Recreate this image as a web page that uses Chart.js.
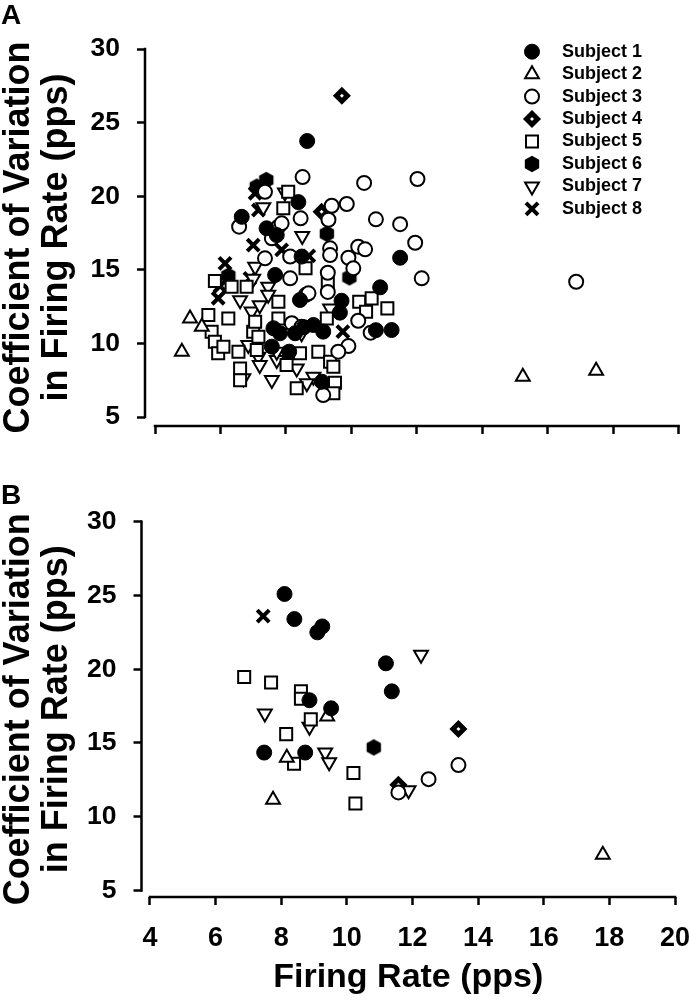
<!DOCTYPE html>
<html>
<head>
<meta charset="utf-8">
<script src="https://cdn.jsdelivr.net/npm/chart.js@4.4.1/dist/chart.umd.min.js"></script>
<style>
  html, body { margin: 0; padding: 0; background: #fff; overflow: hidden; }
  body { width: 690px; height: 1006px; position: relative; }
  canvas { position: absolute; left: 0; }
  #graficoA { top: 0; }
  #graficoB { top: 470px; }
  .letra { position: absolute; left: 1px; line-height: 1; font: bold 28px 'Liberation Sans', Arial, sans-serif; color: #000; }
</style>
</head>
<body>
<canvas id="graficoA" width="720" height="470"></canvas>
<canvas id="graficoB" width="720" height="536"></canvas>
<div class="letra" style="top:-1px">A</div>
<div class="letra" style="top:479px">B</div>
<script>
/* =========================
   DADOS
========================= */
const sujeitos = ['Subject 1', 'Subject 2', 'Subject 3', 'Subject 4', 'Subject 5', 'Subject 6', 'Subject 7', 'Subject 8'];
const ticksFiringRate = [4, 6, 8, 10, 12, 14, 16, 18, 20];
const ticksCV = [5, 10, 15, 20, 25, 30];

// painel A  [firing rate, CV]
const painelA_s1 = [[8.65, 23.75], [8.38, 19.6], [6.65, 18.6], [7.41, 17.82], [7.72, 17.36], [11.49, 15.82], [8.48, 15.9], [7.67, 14.65], [10.88, 13.81], [8.43, 12.95], [9.7, 12.9], [9.65, 12.09], [8.55, 11.1], [8.84, 11.25], [9.14, 10.8], [10.75, 10.9], [11.23, 10.91], [7.62, 11.03], [7.82, 10.69], [8.28, 10.69], [7.57, 9.78], [8.1, 9.44], [9.1, 7.4]];
const painelA_s2 = [[5.07, 11.7], [5.43, 11.13], [4.82, 9.44], [15.24, 7.74], [17.48, 8.15]];
const painelA_s3 = [[8.51, 21.3], [10.39, 20.9], [12.02, 21.17], [9.86, 19.47], [9.4, 19.35], [9.3, 18.4], [10.75, 18.43], [11.49, 18.1], [11.95, 16.84], [9.35, 16.46], [9.35, 16.0], [10.21, 16.57], [10.42, 16.39], [9.91, 15.82], [10.06, 15.1], [12.15, 14.42], [9.28, 14.8], [9.28, 13.5], [10.21, 11.54], [10.59, 10.73], [9.91, 9.82], [9.6, 9.44], [9.14, 6.49], [16.87, 14.19], [8.61, 13.3], [8.45, 18.5], [7.36, 20.3], [6.57, 17.93], [7.77, 17.93], [7.57, 17.14], [7.36, 15.78], [7.87, 18.16], [8.13, 15.9], [8.13, 14.42], [8.69, 13.4], [8.18, 11.37], [8.48, 11.13]];
const painelA_s4 = [[9.71, 26.83], [9.09, 18.95]];
const painelA_s5 = [[9.28, 14.08], [10.24, 12.83], [10.62, 13.06], [10.45, 12.15], [11.1, 12.38], [8.99, 9.44], [8.43, 9.33], [9.35, 8.76], [9.45, 8.42], [9.5, 7.33], [9.45, 6.61], [8.6, 15.1], [7.92, 19.18], [8.07, 20.3], [5.83, 14.24], [6.8, 13.85], [6.34, 13.85], [7.77, 12.83], [5.63, 11.93], [6.24, 11.7], [5.73, 10.8], [5.83, 10.12], [5.93, 9.33], [6.09, 9.78], [6.55, 9.44], [7.0, 10.8], [7.06, 11.47], [6.6, 8.3], [6.6, 7.5], [8.33, 6.95], [7.16, 10.46], [7.11, 9.55], [8.02, 8.53], [7.77, 11.7], [9.25, 11.7]];
const painelA_s6 = [[7.4, 21.1], [7.11, 20.65], [9.25, 17.45], [6.24, 14.6], [9.94, 14.49]];
const painelA_s7 = [[7.97, 20.25], [7.31, 19.25], [8.5, 17.3], [7.06, 15.21], [9.35, 12.38], [8.48, 10.69], [8.84, 7.74], [8.33, 8.3], [7.0, 14.4], [7.46, 13.85], [7.46, 13.3], [6.6, 12.94], [6.95, 12.16], [6.85, 9.89], [7.16, 9.1], [7.72, 8.87], [6.7, 7.63], [7.57, 7.51], [7.2, 12.6], [7.2, 8.53], [8.64, 7.3], [7.72, 9.44]];
const painelA_s8 = [[9.74, 10.8], [8.7, 15.95], [7.06, 20.2], [7.16, 19.06], [7.0, 16.68], [7.87, 16.35], [6.14, 15.44], [5.99, 13.9], [5.93, 13.07], [6.9, 14.42]];

// painel B
const painelB_s1 = [[8.1, 25.1], [8.4, 23.4], [9.1, 22.5], [9.25, 22.9], [11.19, 20.4], [11.37, 18.5], [8.86, 17.9], [9.52, 17.35], [7.48, 14.35], [8.73, 14.35]];
const painelB_s2 = [[9.4, 16.8], [8.17, 14.0], [7.75, 11.15], [17.8, 7.42]];
const painelB_s3 = [[13.4, 13.5], [12.49, 12.55], [11.57, 11.65]];
const painelB_s4 = [[13.4, 15.95], [11.57, 12.17]];
const painelB_s5 = [[6.87, 19.47], [7.69, 19.1], [8.6, 18.5], [8.6, 18.0], [8.9, 16.6], [8.15, 15.6], [8.39, 13.6], [10.2, 12.96], [10.26, 10.9]];
const painelB_s6 = [[10.82, 14.7]];
const painelB_s7 = [[7.5, 17.0], [8.86, 16.1], [9.34, 14.35], [9.46, 13.7], [12.26, 20.98], [11.88, 11.8]];
const painelB_s8 = [[7.45, 23.6]];

const painelA = [painelA_s1, painelA_s2, painelA_s3, painelA_s4, painelA_s5, painelA_s6, painelA_s7, painelA_s8];
const painelB = [painelB_s1, painelB_s2, painelB_s3, painelB_s4, painelB_s5, painelB_s6, painelB_s7, painelB_s8];

/* =========================
   MARCADORES
========================= */
const FONTE = "'Liberation Sans', Arial, sans-serif";
Chart.defaults.font.family = FONTE;
Chart.defaults.color = '#000';

function criarHexagono() {
  const c = document.createElement('canvas');
  c.width = 18;
  c.height = 18;
  const g = c.getContext('2d');
  g.beginPath();
  for (let i = 0; i < 6; i++) {
    const a = Math.PI / 3 * i - Math.PI / 2;
    const px = 9 + 8.3 * Math.cos(a);
    const py = 9 + 8.3 * Math.sin(a);
    if (i) g.lineTo(px, py); else g.moveTo(px, py);
  }
  g.closePath();
  g.fillStyle = '#000';
  g.fill();
  return c;
}

const marcadores = [
  { estilo: 'circle', raio: 7.5, borda: 1, fundo: '#000', rot: 0 },
  { estilo: 'triangle', raio: 8, borda: 2, fundo: '#fff', rot: 0 },
  { estilo: 'circle', raio: 7, borda: 2, fundo: '#fff', rot: 0 },
  { estilo: 'rectRot', raio: 5.5, borda: 5, fundo: '#fff', rot: 0 },
  { estilo: 'rect', raio: 8.5, borda: 2, fundo: '#fff', rot: 0 },
  { estilo: criarHexagono(), raio: 8, borda: 0, fundo: '#000', rot: 0 },
  { estilo: 'triangle', raio: 8, borda: 2, fundo: '#fff', rot: 180 },
  { estilo: 'crossRot', raio: 8.5, borda: 4, fundo: '#000', rot: 0 }
];

function montarDatasets(painel) {
  return painel.map((pontos, i) => ({
    label: sujeitos[i],
    data: pontos.map(([x, y]) => ({ x, y })),
    pointStyle: marcadores[i].estilo,
    pointRadius: marcadores[i].raio,
    pointBorderWidth: marcadores[i].borda,
    pointRotation: marcadores[i].rot,
    pointBackgroundColor: marcadores[i].fundo,
    pointBorderColor: '#000',
    clip: false
  }));
}

/* =========================
   PLUGINS
========================= */
// eixos soltos (estilo SigmaPlot): linha so entre o primeiro e o ultimo tick
const eixosSoltos = {
  id: 'eixosSoltos',
  beforeDatasetsDraw(chart) {
    const { ctx, chartArea, scales: { x, y } } = chart;
    ctx.save();
    ctx.strokeStyle = '#000';
    ctx.lineWidth = 2.5;
    ctx.lineCap = 'square';
    ctx.beginPath();
    ctx.moveTo(chartArea.left, y.getPixelForValue(ticksCV[0]));
    ctx.lineTo(chartArea.left, y.getPixelForValue(ticksCV[ticksCV.length - 1]));
    ctx.moveTo(x.getPixelForValue(ticksFiringRate[0]), chartArea.bottom);
    ctx.lineTo(x.getPixelForValue(ticksFiringRate[ticksFiringRate.length - 1]), chartArea.bottom);
    ctx.stroke();
    ctx.restore();
  }
};

const legendaSujeitos = {
  id: 'legendaSujeitos',
  afterDraw(chart, args, opts) {
    if (!opts.mostrar) return;
    const ctx = chart.ctx;
    chart.data.datasets.forEach((ds, i) => {
      const yy = opts.y + i * opts.passo;
      ctx.save();
      ctx.fillStyle = ds.pointBackgroundColor;
      ctx.strokeStyle = '#000';
      ctx.lineWidth = ds.pointBorderWidth;
      Chart.helpers.drawPoint(ctx, {
        pointStyle: ds.pointStyle,
        radius: ds.pointRadius,
        rotation: ds.pointRotation,
        borderWidth: ds.pointBorderWidth
      }, opts.x, yy);
      ctx.restore();

      ctx.save();
      ctx.font = 'bold 18px ' + FONTE;
      ctx.textBaseline = 'middle';
      ctx.fillStyle = '#000';
      ctx.fillText(ds.label, opts.xTexto, yy);
      ctx.restore();
    });
  }
};

/* =========================
   GRAFICOS
========================= */
function montarGrafico(id, painel, cfg) {
  return new Chart(document.getElementById(id), {
    type: 'scatter',
    data: { datasets: montarDatasets(painel) },
    options: {
      responsive: false,
      animation: false,
      events: [],
      layout: { padding: { top: cfg.topo, right: cfg.direita, bottom: 0, left: 0 } },
      plugins: {
        legend: { display: false },
        tooltip: { enabled: false },
        legendaSujeitos: cfg.legenda
      },
      scales: {
        x: {
          type: 'linear',
          position: 'bottom',
          min: cfg.xMin,
          max: 20,
          afterBuildTicks: s => { s.ticks = ticksFiringRate.map(v => ({ value: v })); },
          afterFit: s => { s.height = cfg.alturaX; },
          border: { display: false },
          grid: { drawOnChartArea: false, drawTicks: true, tickLength: 8, tickWidth: 2.5, tickColor: '#000' },
          ticks: { display: cfg.rotulosX, padding: 17, color: '#000', font: { size: 27, weight: 'bold' } },
          title: {
            display: cfg.rotulosX,
            text: 'Firing Rate (pps)',
            color: '#000',
            font: { size: 34, weight: 'bold' },
            padding: { top: 0, bottom: 7.6 }
          }
        },
        y: {
          type: 'linear',
          position: 'left',
          min: cfg.yMin,
          max: 30,
          afterBuildTicks: s => { s.ticks = ticksCV.map(v => ({ value: v })); },
          afterFit: s => { s.width = cfg.larguraY; },
          border: { display: false },
          grid: { drawOnChartArea: false, drawTicks: true, tickLength: 8, tickWidth: 2.5, tickColor: '#000' },
          ticks: { padding: 17, color: '#000', font: { size: 26.5, weight: 'bold' } },
          title: {
            display: true,
            text: ['Coefficient of Variation', 'in Firing Rate (pps)'],
            color: '#000',
            font: { size: 36, weight: 'bold', lineHeight: 1.06 },
            padding: 0
          }
        }
      }
    },
    plugins: [eixosSoltos, legendaSujeitos]
  });
}

montarGrafico('graficoA', painelA, {
  topo: 49, direita: 41.4, larguraY: 145, alturaX: 44,
  xMin: 3.694, yMin: 4.39, rotulosX: false,
  legenda: { mostrar: true, x: 532, xTexto: 562, y: 51.7, passo: 22.45 }
});

montarGrafico('graficoB', painelB, {
  topo: 51.7, direita: 45, larguraY: 141.5, alturaX: 109,
  xMin: 3.741, yMin: 4.56, rotulosX: true,
  legenda: { mostrar: false }
});
</script>
</body>
</html>
